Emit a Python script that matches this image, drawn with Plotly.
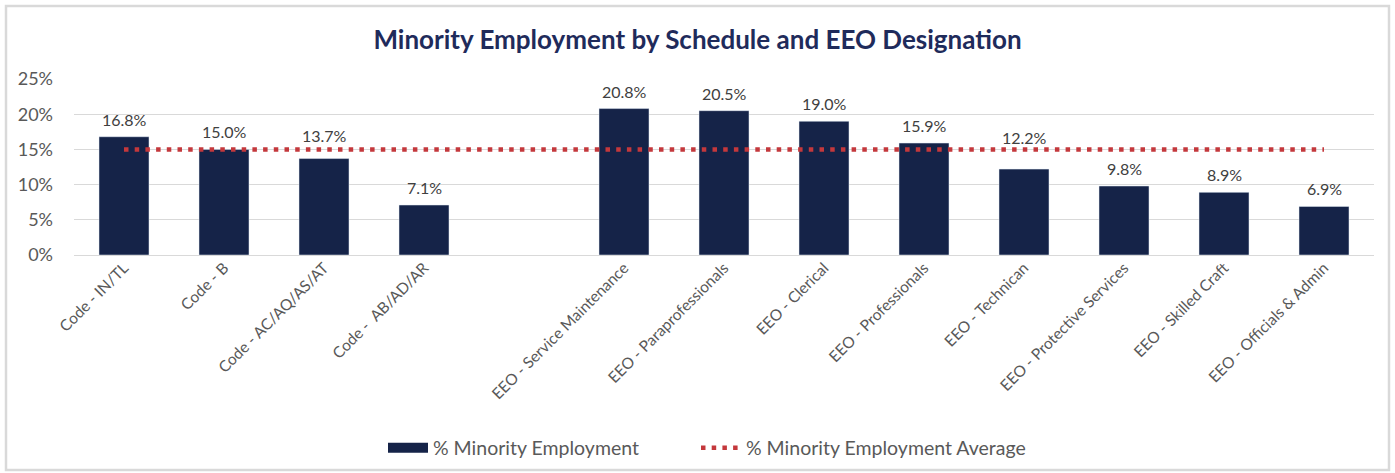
import plotly.graph_objects as go

categories = ["Code - IN/TL", "Code - B", "Code - AC/AQ/AS/AT", "Code -  AB/AD/AR", " ",
              "EEO - Service Maintenance", "EEO - Paraprofessionals", "EEO - Clerical",
              "EEO - Professionals", "EEO - Technican", "EEO - Protective Services",
              "EEO - Skilled Craft", "EEO - Officials & Admin"]
minority_pct = [16.8, 15.0, 13.7, 7.1, None, 20.8, 20.5, 19.0, 15.9, 12.2, 9.8, 8.9, 6.9]
average_pct = [15.0] * len(categories)
y_ticks = [0, 5, 10, 15, 20, 25]
y_tick_labels = ["0%", "5%", "10%", "15%", "20%", "25%"]

# labels that the original moved up so they clear the average line (pixels)
label_nudge = {"Code - AC/AQ/AS/AT": 6, "EEO - Technican": 14}

FONT = "Lato"
NAVY = "#152348"
RED = "#C4383C"

L, R, T, B = 74, 21, 79, 218
W, H = 1395, 473
pw, ph = W - L - R, H - T - B

def px_x(p):
    return (p - L) / pw

def px_y(p):
    return (H - B - p) / ph

fig = go.Figure()
fig.add_trace(go.Bar(
    x=categories, y=minority_pct, name="% Minority Employment",
    marker=dict(color=NAVY),
    width=0.5,
    showlegend=False,
))
# legend swatch drawn as a wide rectangle like the original
fig.add_trace(go.Scatter(
    x=[None], y=[None], name="% Minority Employment", mode="lines",
    line=dict(color=NAVY, width=14), hoverinfo="skip", legend="legend",
))
fig.add_trace(go.Scatter(
    x=categories, y=average_pct, name="% Minority Employment Average",
    mode="lines",
    line=dict(color=RED, width=4.5, dash="4.5px,6.2px"),
    legend="legend2",
))

annotations = []
for c, v in zip(categories, minority_pct):
    if v is None:
        continue
    annotations.append(dict(x=c, y=v, xref="x", yref="y", text=f"{v:.1f}%",
                            showarrow=False, yanchor="bottom",
                            yshift=6 + label_nudge.get(c, 0),
                            font=dict(family=FONT, size=16, color="#404040")))

legend_common = dict(orientation="h", xanchor="left", y=px_y(448), yanchor="middle",
                     font=dict(family=FONT, size=19.5, color="#595959"),
                     bgcolor="rgba(0,0,0,0)", itemwidth=40)

fig.update_layout(
    width=W, height=H,
    margin=dict(l=L, r=R, t=T, b=B, autoexpand=False),
    paper_bgcolor="white", plot_bgcolor="white",
    title=dict(text="<b>Minority Employment by Schedule and EEO Designation</b>",
               x=0.5, xanchor="center", y=1 - 40 / H, yanchor="middle",
               font=dict(family=FONT, size=26, color="#1F2B5B")),
    font=dict(family=FONT, color="#595959"),
    showlegend=True,
    legend=dict(x=px_x(383), **legend_common),
    legend2=dict(x=px_x(696), **legend_common),
    bargap=0.5,
    annotations=annotations,
    shapes=[dict(type="rect", xref="paper", yref="paper",
                 x0=px_x(6), x1=px_x(1389), y0=px_y(470), y1=px_y(6),
                 line=dict(color="#D9D9D9", width=2.5), fillcolor="rgba(0,0,0,0)",
                 layer="below")],
)
fig.update_xaxes(type="category", tickangle=-45, tickfont=dict(family=FONT, size=15.5, color="#595959"),
                 showgrid=False, showline=False, ticks="")
fig.update_yaxes(range=[0, 25], tickmode="array", tickvals=y_ticks, ticktext=y_tick_labels,
                 tickfont=dict(family=FONT, size=18, color="#595959"),
                 showgrid=True, gridcolor="#D9D9D9", gridwidth=1,
                 zeroline=True, zerolinecolor="#D9D9D9", zerolinewidth=1,
                 showline=False, ticks="", ticklabelstandoff=20)

fig.write_html("out.html")
